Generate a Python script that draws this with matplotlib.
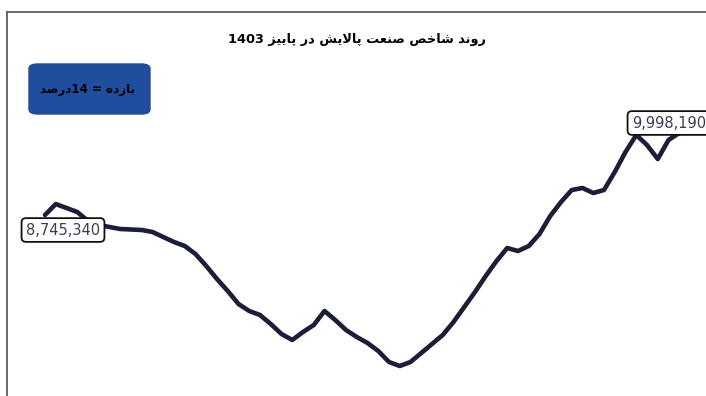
import numpy as np
import matplotlib.pyplot as plt
from matplotlib.lines import Line2D
from matplotlib.patches import FancyBboxPatch

# روند روزانه شاخص صنعت پالایش (مقادیر تخمینی از روی تصویر)
days = list(range(61))
index_values = [
    8745340, 8907000, 8848500, 8789600, 8656900, 8597950, 8568500, 8539000,
    8531600, 8524300, 8494800, 8421100, 8347400, 8288400, 8170500, 7993700,
    7802000, 7625200, 7433600, 7330400, 7271400, 7138800, 6991400, 6903000,
    7020900, 7124000, 7330400, 7197700, 7050400, 6947200, 6858700, 6740800,
    6578700, 6519800, 6578700, 6711400, 6844000, 6976700, 7168300, 7389400,
    7610400, 7846300, 8067300, 8259000, 8214700, 8288400, 8465300, 8730600,
    8936900, 9113800, 9143300, 9069600, 9113800, 9379100, 9673900, 9924500,
    9777100, 9570700, 9850800, 9953900, 9998190,
]
title_text = "روند شاخص صنعت پالایش در پاییز 1403"
box_text = "بازده = 14درصد"


# شکل دادن ساده حروف فارسی (matplotlib خودش حروف را به هم نمی چسباند)
FORMS = {
    "ا": (0xFE8D, 0xFE8E, None, None),
    "ب": (0xFE8F, 0xFE90, 0xFE91, 0xFE92),
    "پ": (0xFB56, 0xFB57, 0xFB58, 0xFB59),
    "ت": (0xFE95, 0xFE96, 0xFE97, 0xFE98),
    "خ": (0xFEA5, 0xFEA6, 0xFEA7, 0xFEA8),
    "د": (0xFEA9, 0xFEAA, None, None),
    "ر": (0xFEAD, 0xFEAE, None, None),
    "ز": (0xFEAF, 0xFEB0, None, None),
    "ش": (0xFEB5, 0xFEB6, 0xFEB7, 0xFEB8),
    "ص": (0xFEB9, 0xFEBA, 0xFEBB, 0xFEBC),
    "ع": (0xFEC9, 0xFECA, 0xFECB, 0xFECC),
    "ل": (0xFEDD, 0xFEDE, 0xFEDF, 0xFEE0),
    "ن": (0xFEE5, 0xFEE6, 0xFEE7, 0xFEE8),
    "و": (0xFEED, 0xFEEE, None, None),
    "ه": (0xFEE9, 0xFEEA, 0xFEEB, 0xFEEC),
    "ی": (0xFBFC, 0xFBFD, 0xFBFE, 0xFBFF),
}


def shape(s):
    out = []
    i = 0
    n = len(s)
    while i < n:
        ch = s[i]
        if ch not in FORMS:
            out.append(ch)
            i += 1
            continue
        prev = s[i - 1] if i > 0 else None
        join_prev = prev in FORMS and FORMS[prev][2] is not None
        # لام + الف
        if ch == "ل" and i + 1 < n and s[i + 1] == "ا":
            out.append(chr(0xFEFC if join_prev else 0xFEFB))
            i += 2
            continue
        nxt = s[i + 1] if i + 1 < n else None
        join_next = FORMS[ch][2] is not None and nxt in FORMS
        iso, fin, ini, med = FORMS[ch]
        if join_prev and join_next:
            c = med
        elif join_prev:
            c = fin
        elif join_next:
            c = ini
        else:
            c = iso
        out.append(chr(c))
        i += 1
    # ترتیب نمایش راست به چپ، اعداد چپ به راست می مانند
    vis = "".join(out)[::-1]
    res = ""
    run = ""
    for c in vis:
        if c.isdigit():
            run += c
        else:
            res += run[::-1] + c
            run = ""
    return res + run[::-1]


fig = plt.figure(figsize=(7.06, 3.96), dpi=100)
W, H = 706, 396

# کادر خاکستری دور نمودار
fig.add_artist(Line2D([6.5 / W, 6.5 / W], [0, 1 - 11.5 / H], color="#5e5e5e", lw=1.3))
fig.add_artist(Line2D([6.5 / W, 1], [1 - 11.5 / H, 1 - 11.5 / H], color="#5e5e5e", lw=1.3))

ax = fig.add_axes([45 / W, 1 - 366 / H, 645 / W, 236 / H])
ax.plot(days, index_values, color="#1b1e36", lw=3.3,
        solid_joinstyle="round", solid_capstyle="round", clip_on=False)
ax.set_xlim(days[0], days[-1])
ax.set_ylim(min(index_values), max(index_values))
ax.axis("off")

lbl = dict(boxstyle="round,pad=0.3,rounding_size=0.3", fc="white", ec="#111111", lw=1.3)
ax.annotate(f"{index_values[0]:,}", (days[0], index_values[0]),
            xytext=(18, -15), textcoords="offset pixels", ha="center", va="center",
            fontsize=10.5, color="#3e3e52", bbox=lbl, annotation_clip=False)
ax.annotate(f"{index_values[-1]:,}", (days[-1], index_values[-1]),
            xytext=(-21, 7), textcoords="offset pixels", ha="center", va="center",
            fontsize=10.5, color="#3e3e52", bbox=lbl, annotation_clip=False)

fig.text(357 / W, 1 - 40 / H, shape(title_text), ha="center", va="center",
         fontsize=9.3, fontweight="bold", color="#000000", family=["DejaVu Sans"])

box = FancyBboxPatch((29 / W, 1 - 114 / H), 121 / W, 50 / H,
                     boxstyle="round,pad=0,rounding_size=0.012",
                     transform=fig.transFigure, fc="#1f4e9f", ec="#2a4a86", lw=1.0)
fig.add_artist(box)
fig.text(88 / W, 1 - 89 / H, shape(box_text), ha="center", va="center",
         fontsize=8.6, fontweight="bold", color="#000000", family=["DejaVu Sans"])

fig.savefig("out.png", dpi=100)
